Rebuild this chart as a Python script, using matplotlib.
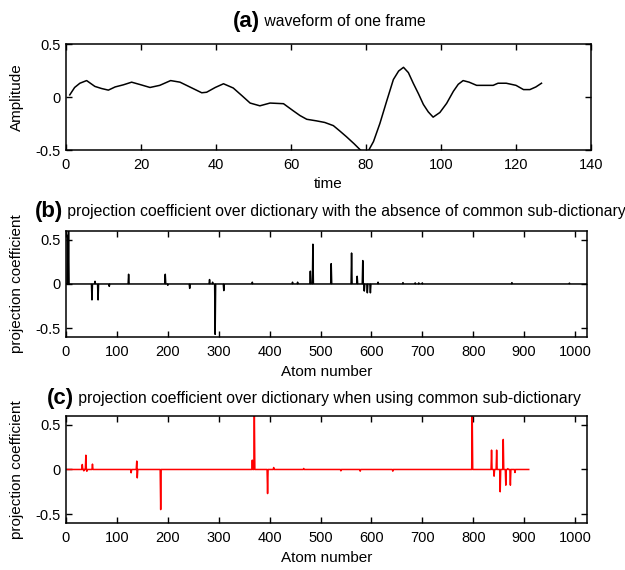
import numpy as np
import matplotlib
matplotlib.use('Agg')
import matplotlib.pyplot as plt

plt.rcParams['font.family'] = ['Liberation Sans', 'DejaVu Sans']

# (a) waveform of one frame
wave_t = [1, 2.3, 3.7, 5.5, 6.5, 7.7, 9.5, 11.3, 13.1, 15.3, 17.5, 20, 22.4, 25, 27.9,
          30.4, 33.3, 36.2, 37.5, 39.8, 42, 44.6, 47, 49.1, 51.7, 54.4, 58, 60.6, 62.4,
          64.2, 66.8, 69, 71.3, 73, 74.8, 76.8, 78.8, 80.6, 82, 83.7, 85.5, 87.3, 88.7,
          90, 91.3, 92.6, 94, 95.3, 96.6, 97.9, 99.7, 101.5, 103.3, 104.6, 105.9, 107.5,
          109.5, 113.9, 115.2, 117.4, 120, 122, 123.7, 125.3, 126.8]
wave_y = [0.02, 0.09, 0.13, 0.155, 0.13, 0.10, 0.08, 0.065, 0.095, 0.115, 0.14, 0.115,
          0.09, 0.11, 0.155, 0.14, 0.09, 0.04, 0.045, 0.09, 0.125, 0.085, 0.01, -0.057,
          -0.083, -0.057, -0.063, -0.13, -0.175, -0.21, -0.225, -0.24, -0.27, -0.32,
          -0.375, -0.44, -0.51, -0.51, -0.42, -0.25, -0.04, 0.165, 0.245, 0.28, 0.23,
          0.13, 0.03, -0.07, -0.14, -0.19, -0.146, -0.06, 0.054, 0.12, 0.155, 0.14, 0.11,
          0.11, 0.13, 0.13, 0.11, 0.07, 0.07, 0.095, 0.13]

# (b) non-zero projection coefficients, no common sub-dictionary (1024 atoms)
n_atoms_b = 1024
atoms_b = [3, 5, 51, 57, 63, 85, 123, 195, 200, 243, 282, 288, 293, 310, 366, 445, 455,
           480, 485, 521, 561, 572, 583, 586, 592, 598, 613, 662, 686, 693, 700, 876, 989]
coef_b = [0.55, 0.65, -0.18, 0.03, -0.18, -0.027, 0.11, 0.11, -0.015, -0.05, 0.05, 0.02,
          -0.57, -0.075, 0.02, 0.02, 0.02, 0.145, 0.45, 0.23, 0.35, 0.087, 0.265, -0.08,
          -0.1, -0.1, 0.02, 0.015, 0.012, 0.012, 0.012, 0.015, 0.01]

# (c) non-zero projection coefficients, common sub-dictionary used (910 atoms)
n_atoms_c = 910
atoms_c = [32, 35, 39, 41, 52, 128, 139, 140, 186, 366, 370, 396, 408, 467, 540, 578,
           642, 798, 836, 841, 846, 853, 859, 864, 868, 873, 882]
coef_c = [0.056, -0.015, 0.16, -0.02, 0.06, -0.037, 0.094, -0.094, -0.45, 0.105, 0.65,
          -0.27, 0.022, 0.011, -0.015, -0.019, -0.019, 0.65, 0.217, -0.075, 0.217, -0.25,
          0.337, -0.176, 0.01, -0.176, -0.034]


def dense(n, atoms, vals):
    c = np.zeros(n)
    c[np.array(atoms)] = vals
    return c


def style_ax(ax):
    ax.tick_params(direction='in', top=True, right=True, labelsize=10.5, length=4,
                   width=1, pad=6)
    ax.tick_params(axis='y', pad=4)
    for s in ax.spines.values():
        s.set_linewidth(1.1)


def title(x, y, tag, text):
    t = fig.text(x, y, tag, fontsize=16, fontweight='bold', va='baseline')
    plt.annotate(' ' + text, xy=(1, 0.12), xycoords=t, va='bottom', fontsize=11.3,
                 annotation_clip=False)


fig = plt.figure(figsize=(6.25, 5.7), dpi=100)

ax1 = fig.add_axes([0.1056, 0.7368, 0.84, 0.186])
ax1.plot(wave_t, wave_y, color='black', lw=1.1)
ax1.set_xlim(0, 140)
ax1.set_ylim(-0.5, 0.5)
ax1.set_yticks([-0.5, 0, 0.5])
ax1.set_yticklabels(['-0.5', '0', '0.5'])
ax1.set_xlabel('time', fontsize=11, labelpad=3)
ax1.set_ylabel('Amplitude', fontsize=11, labelpad=8)
style_ax(ax1)

ax2 = fig.add_axes([0.1056, 0.4088, 0.834, 0.186])
ax2.plot(np.arange(n_atoms_b), dense(n_atoms_b, atoms_b, coef_b), color='black', lw=1.1)
ax2.set_xlim(0, 1024)
ax2.set_ylim(-0.6, 0.6)
ax2.set_xticks(range(0, 1001, 100))
ax2.set_yticks([-0.5, 0, 0.5])
ax2.set_yticklabels(['-0.5', '0', '0.5'])
ax2.set_xlabel('Atom number', fontsize=11, labelpad=4)
ax2.set_ylabel('projection coefficient', fontsize=11, labelpad=8)
style_ax(ax2)

ax3 = fig.add_axes([0.1056, 0.0825, 0.834, 0.1877])
ax3.plot(np.arange(n_atoms_c), dense(n_atoms_c, atoms_c, coef_c), color='red', lw=1.1)
ax3.set_xlim(0, 1024)
ax3.set_ylim(-0.6, 0.6)
ax3.set_xticks(range(0, 1001, 100))
ax3.set_yticks([-0.5, 0, 0.5])
ax3.set_yticklabels(['-0.5', '0', '0.5'])
ax3.set_xlabel('Atom number', fontsize=11, labelpad=4)
ax3.set_ylabel('projection coefficient', fontsize=11, labelpad=8)
style_ax(ax3)

title(233 / 625, 1 - 27 / 570, '(a)', 'waveform of one frame')
title(35 / 625, 1 - 217 / 570, '(b)',
      'projection coefficient over dictionary with the absence of common sub-dictionary')
title(47 / 625, 1 - 404 / 570, '(c)',
      'projection coefficient over dictionary when using common sub-dictionary')

fig.savefig('out.png', dpi=100)
